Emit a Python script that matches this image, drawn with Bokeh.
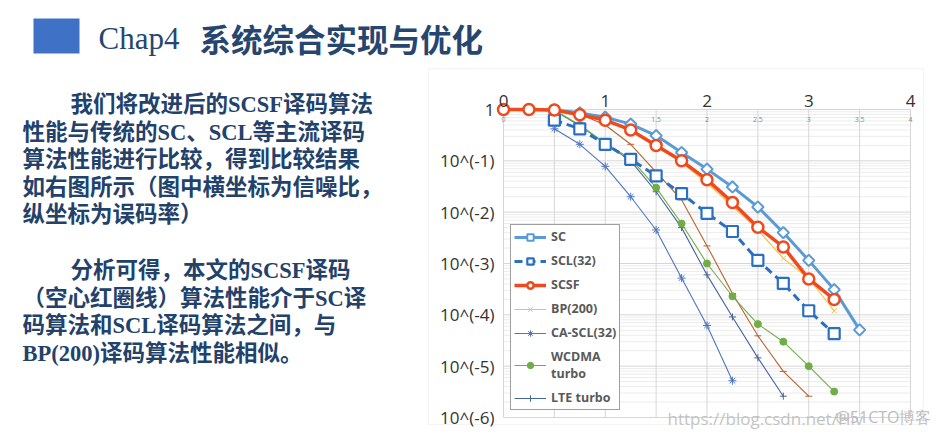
import math
from bokeh.plotting import figure
from bokeh.models import (Range1d, FixedTicker, Label, BoxAnnotation, Legend, LegendItem,
                          ColumnDataSource, LogAxis, LinearAxis)
from bokeh.core.properties import value
from bokeh.embed import file_html
from bokeh.resources import INLINE

# ---------------- data ----------------
snr_sc = [0, 0.25, 0.5, 0.75, 1, 1.25, 1.5, 1.75, 2, 2.25, 2.5, 2.75, 3, 3.25, 3.5]
ber_sc = [1.0, 1.0, 0.98, 0.86, 0.71, 0.52, 0.31, 0.145, 0.069, 0.031, 0.0126, 0.004, 0.00115, 0.00031, 5.1e-5]

snr_scl = [0.5, 0.75, 1, 1.25, 1.5, 1.75, 2, 2.25, 2.5, 2.75, 3, 3.25]
ber_scl = [0.62, 0.42, 0.21, 0.107, 0.051, 0.023, 0.0095, 0.0042, 0.00115, 0.00041, 0.00012, 4.3e-5]

snr_scsf = [0, 0.25, 0.5, 0.75, 1, 1.25, 1.5, 1.75, 2, 2.25, 2.5, 2.75, 3, 3.25]
ber_scsf = [1.0, 1.0, 0.98, 0.79, 0.62, 0.40, 0.20, 0.10, 0.043, 0.0155, 0.0051, 0.0021, 0.0005, 0.0002]

snr_bp = [0.5, 0.75, 1, 1.25, 1.5, 1.75, 2, 2.25, 2.5, 2.75, 3, 3.25]
ber_bp = [0.98, 0.79, 0.62, 0.38, 0.19, 0.093, 0.037, 0.0132, 0.0045, 0.00126, 0.00051, 0.00012]

snr_ca = [0.5, 0.75, 1, 1.25, 1.5, 1.75, 2, 2.25]
ber_ca = [0.42, 0.21, 0.078, 0.02, 0.0045, 0.00052, 6.2e-5, 5.2e-6]

snr_wcdma = [0, 0.25, 0.5, 0.75, 1, 1.25, 1.5, 1.75, 2, 2.25, 2.5, 2.75, 3, 3.25]
ber_wcdma = [1.0, 1.0, 0.98, 0.50, 0.22, 0.11, 0.030, 0.006, 0.001, 0.00023, 6.6e-5, 3.0e-5, 1.0e-5, 3.2e-6]

snr_lte = [0.5, 0.75, 1, 1.25, 1.5, 1.75, 2, 2.25, 2.5, 2.75]
ber_lte = [0.95, 0.48, 0.22, 0.10, 0.025, 0.005, 0.0006, 9.1e-5, 1.45e-5, 2.6e-6]

snr_other = [0.5, 0.75, 1, 1.25, 1.5, 1.75, 2, 2.25, 2.5, 2.75, 3]
ber_other = [0.98, 0.82, 0.50, 0.21, 0.06, 0.0174, 0.0022, 0.00026, 3.9e-5, 7.9e-6, 2.6e-6]

y_ticks = [1e-6, 1e-5, 1e-4, 1e-3, 1e-2, 1e-1, 1.0]
y_tick_labels = ["10^(-6)", "10^(-5)", "10^(-4)", "10^(-3)", "10^(-2)", "10^(-1)", "1"]
x_ticks = [0, 1, 2, 3, 4]
x_tick_labels = ["0", "1", "2", "3", "4"]
inner_ticks = [0, 0.5, 1, 1.5, 2, 2.5, 3, 3.5, 4]
inner_tick_labels = ["0", "0.5", "1", "1.5", "2", "2.5", "3", "3.5", "4"]

title_en = "Chap4"
title_zh = "系统综合实现与优化"
body_lines = [
    "我们将改进后的SCSF译码算法",
    "性能与传统的SC、SCL等主流译码",
    "算法性能进行比较，得到比较结果",
    "如右图所示（图中横坐标为信噪比，",
    "纵坐标为误码率）",
    "分析可得，本文的SCSF译码",
    "（空心红圈线）算法性能介于SC译",
    "码算法和SCL译码算法之间，与",
    "BP(200)译码算法性能相似。",
]
watermark_1 = "https://blog.csdn.net/Hiv"
watermark_2 = "@51CTO博客"

# ---------------- figure ----------------
W, H = 943, 437
PX0, PX_PER_UNIT = 503, 101.75      # page x of SNR 0, pixels per SNR unit
PY0, PX_PER_DEC = 109, 308 / 6.0    # page y of BER 1, pixels per decade

x_lo = -PX0 / PX_PER_UNIT
x_hi = (W - PX0) / PX_PER_UNIT
y_lo = 10 ** (-(H - PY0) / PX_PER_DEC)
y_hi = 10 ** (PY0 / PX_PER_DEC)

p = figure(width=W, height=H, output_backend="svg", toolbar_location=None,
           x_range=Range1d(x_lo, x_hi), y_range=Range1d(y_lo, y_hi), y_axis_type="log",
           x_axis_location=None, y_axis_location=None,
           min_border=0, min_border_left=0, min_border_right=0, min_border_top=0, min_border_bottom=0)
p.background_fill_color = "white"
p.border_fill_color = "white"
p.outline_line_color = None
p.grid.visible = False

def sx(X):
    return X

def sy(Y):
    return H - Y

# chart box
p.add_layout(BoxAnnotation(left=sx(428), right=sx(923), top=sy(68), bottom=sy(424),
                           left_units="screen", right_units="screen", top_units="screen", bottom_units="screen",
                           fill_alpha=0, line_color="#dcdcdc", line_width=1.2, level="underlay"))

# grid lines (through the data scales)
minor = [m * 10.0 ** k for k in range(-6, 0) for m in range(2, 10)]
p.segment(x0=[0] * len(minor), x1=[4] * len(minor), y0=minor, y1=minor,
          line_color="#ececec", line_width=1)
p.segment(x0=[0] * len(y_ticks), x1=[4] * len(y_ticks), y0=y_ticks, y1=y_ticks,
          line_color="#d6d6d6", line_width=1)
p.segment(x0=inner_ticks, x1=inner_ticks, y0=[1e-6] * len(inner_ticks), y1=[1.0] * len(inner_ticks),
          line_color="#d6d6d6", line_width=1)

# axes at fixed locations
yax = LogAxis(ticker=FixedTicker(ticks=y_ticks), fixed_location=0, bounds=(1e-6, 1.0))
yax.major_label_overrides = dict(zip(y_ticks, y_tick_labels))
yax.major_label_standoff = 9
xax = LinearAxis(ticker=FixedTicker(ticks=x_ticks), fixed_location=1.0, bounds=(0, 4))
xax.major_label_overrides = dict(zip(x_ticks, x_tick_labels))
xax.major_label_standoff = 3
for ax in (xax, yax):
    ax.axis_line_color = None
    ax.major_tick_line_color = None
    ax.minor_tick_line_color = None
    ax.major_tick_out = 0
    ax.major_tick_in = 0
    ax.major_label_text_font = "Open Sans"
    ax.major_label_text_font_size = "17px"
    ax.major_label_text_color = "#333333"
p.add_layout(yax, "left")
p.add_layout(xax, "above")

# tiny inner tick labels
p.text(x=inner_ticks, y=[0.64] * len(inner_ticks), text=inner_tick_labels,
       text_font=value("Open Sans"), text_font_size="7px", text_color="#8a8a8a",
       text_align="center", text_baseline="middle")

def series(xs, ys, color, width, marker, msize, fill, dash="solid", mline=None, angle=0.0):
    src = ColumnDataSource(dict(x=xs, y=ys))
    l = p.line("x", "y", source=src, line_color=color, line_width=width, line_dash=dash)
    s = p.scatter("x", "y", source=src, marker=marker, size=msize, angle=angle,
                  line_color=color, fill_color=fill,
                  line_width=mline if mline is not None else max(1.0, width * 0.7))
    return [l, s]

r_other = series(snr_other, ber_other, "#b8622c", 1.1, "dash", 7, "#b8622c")
r_lte = series(snr_lte, ber_lte, "#45649e", 1.1, "cross", 7, "#45649e")
r_wc = series(snr_wcdma, ber_wcdma, "#70ad47", 1.1, "circle", 7, "#70ad47")
r_ca = series(snr_ca, ber_ca, "#4f76c2", 1.1, "asterisk", 8, "#4f76c2")
r_bp = series(snr_bp, ber_bp, "#f7bd45", 1.1, "x", 7, "#f7bd45")
r_scl = series(snr_scl, ber_scl, "#2b6fc2", 3, "square", 11, "white", dash="8 5", mline=2.2)
r_sc = series(snr_sc, ber_sc, "#5b9bd5", 3, "square", 8, "white", mline=2, angle=math.pi / 4)
r_scsf = series(snr_scsf, ber_scsf, "#ee4a1e", 3.5, "circle", 11, "white", mline=2.5)

legend = Legend(items=[
    LegendItem(label="SC", renderers=r_sc),
    LegendItem(label="SCL(32)", renderers=r_scl),
    LegendItem(label="SCSF", renderers=r_scsf),
    LegendItem(label="BP(200)", renderers=r_bp),
    LegendItem(label="CA-SCL(32)", renderers=r_ca),
    LegendItem(label="WCDMA\nturbo", renderers=r_wc),
    LegendItem(label="LTE turbo", renderers=r_lte),
], location=(sx(510), sy(410)))
legend.margin = 0
legend.padding = 3
legend.spacing = 7
legend.label_height = 16
legend.glyph_height = 16
legend.glyph_width = 32
legend.label_standoff = 5
legend.border_line_color = "#404040"
legend.border_line_width = 1.5
legend.background_fill_color = "white"
legend.background_fill_alpha = 1
legend.label_text_font = "Open Sans"
legend.label_text_font_style = "bold"
legend.label_text_font_size = "12.5px"
legend.label_text_color = "#595959"
p.add_layout(legend, "center")

# ---------------- slide decorations ----------------
p.add_layout(BoxAnnotation(left=sx(33), right=sx(79), top=sy(18), bottom=sy(53),
                           left_units="screen", right_units="screen", top_units="screen", bottom_units="screen",
                           fill_color="#3f72c6", fill_alpha=1, line_color=None))

TITLE_C = "#264670"
NAVY = "#22416b"
p.add_layout(Label(x=sx(98), y=sy(38), x_units="screen", y_units="screen", text=title_en,
                   text_font="'Liberation Serif'", text_font_size="31px", text_color=TITLE_C,
                   text_baseline="middle"))
p.add_layout(Label(x=sx(199), y=sy(37), x_units="screen", y_units="screen", text=title_zh,
                   text_font="'Noto Sans CJK SC'", text_font_size="31.5px", text_font_style="bold",
                   text_color=TITLE_C, text_baseline="middle"))

body_font = "'Liberation Serif', 'Noto Sans CJK SC'"
line_x = [70, 22, 22, 22, 22, 70, 22, 22, 22]
line_y = [104, 132, 159, 187, 214, 270, 298, 325, 353]
for t, X, Y in zip(body_lines, line_x, line_y):
    p.add_layout(Label(x=sx(X), y=sy(Y), x_units="screen", y_units="screen", text=t,
                       text_font=body_font, text_font_size="22.5px", text_font_style="bold",
                       text_color=NAVY, text_baseline="middle"))

p.add_layout(Label(x=sx(667), y=sy(418), x_units="screen", y_units="screen", text=watermark_1,
                   text_font="Open Sans", text_font_size="17px", text_color="#c4c4c4",
                   text_baseline="middle"))
p.add_layout(Label(x=sx(835), y=sy(416), x_units="screen", y_units="screen", text=watermark_2,
                   text_font="Open Sans", text_font_size="16px", text_color="#bdbdbd",
                   text_baseline="middle"))

open("out.html", "w").write(file_html(p, INLINE))
